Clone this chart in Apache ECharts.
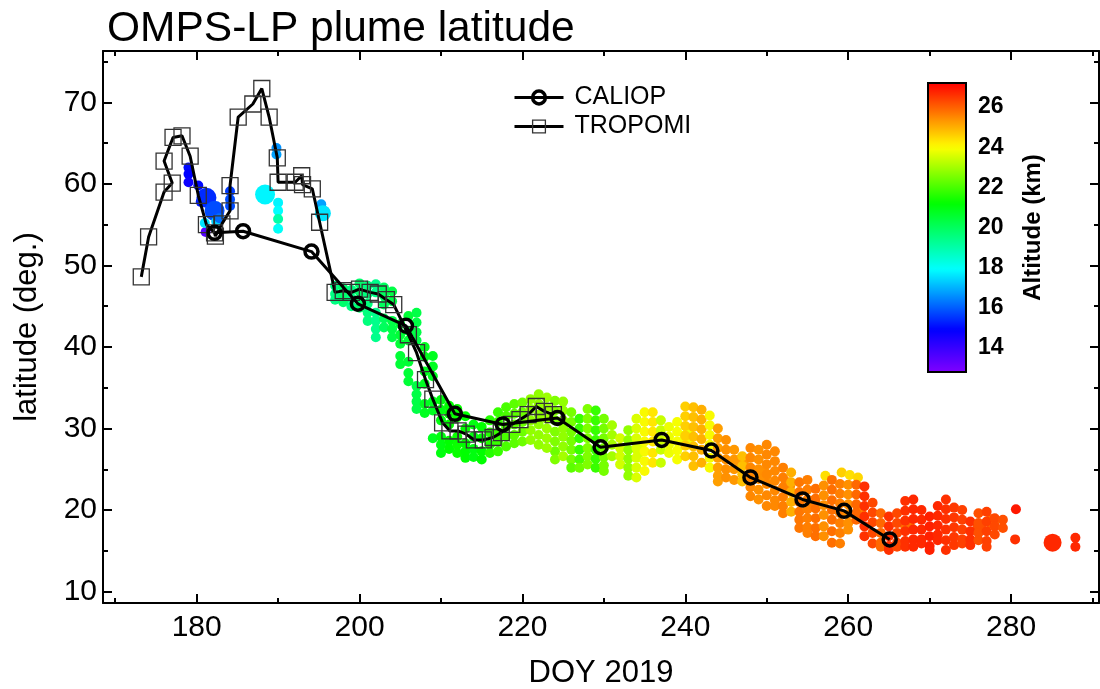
<!DOCTYPE html>
<html>
<head>
    <meta charset="utf-8">
    <title>OMPS-LP plume latitude</title>
    <script src="https://cdn.jsdelivr.net/npm/echarts@6/dist/echarts.min.js"></script>
</head>
<body style="margin:0">
    <div id="main" style="width: 1100px;height:689px;"></div>
    <script type="text/javascript">
        // CALIOP track (DOY, latitude)
        var caliopDoy = [182.2, 185.7, 194.1, 199.8, 205.7, 211.7, 217.6, 224.3, 229.6, 237.1, 243.2, 248.0, 254.4, 259.5, 265.1];
        var caliopLat = [54.0, 54.2, 51.7, 45.3, 42.6, 31.8, 30.5, 31.3, 27.7, 28.6, 27.3, 24.0, 21.3, 19.9, 16.4];

        // TROPOMI track (DOY, latitude), in drawing order
        var tropDoy = [173.2, 174.1, 176.0, 177.0, 176.0, 177.1, 178.2, 179.2, 180.2, 181.2, 182.2, 182.3, 183.1, 184.1, 184.1,
            185.1, 186.9, 188.0, 188.9, 189.9, 190.0, 192.1, 192.9, 193.0, 194.2, 195.1,
            197.0, 198.0, 199.0, 200.0, 201.3, 202.3, 203.3, 204.2, 206.0, 207.0, 208.1, 209.0, 210.2,
            211.1, 212.1, 213.1, 214.1, 215.2, 216.4, 217.4, 218.7, 219.7, 220.7, 221.7, 222.7, 223.8];
        var tropLat = [48.6, 53.5, 59.0, 60.1, 62.8, 65.7, 65.9, 63.4, 58.6, 55.0, 54.0, 53.6, 55.1, 56.7, 59.8,
            68.2, 69.8, 71.7, 68.2, 63.2, 60.2, 60.2, 61.0, 59.9, 59.4, 55.3,
            46.7, 46.9, 46.7, 47.1, 46.7, 46.5, 45.8, 45.2, 41.5, 39.3, 36.0, 33.6, 30.7,
            29.7, 29.7, 29.3, 28.6, 28.6, 28.9, 29.5, 30.5, 31.1, 31.7, 32.7, 32.1, 31.7];

        // OMPS-LP single points: [DOY, latitude, altitude km, (size)]
        var ompsPoints = [
            [179.0, 62.0, 15.0], [179.0, 61.2, 14.9], [179.0, 60.2, 14.7],
            [180.2, 59.8, 15.0], [180.5, 57.8, 15.2], [181.2, 58.3, 15.4, 20],
            [182.2, 56.7, 15.8, 20], [181.1, 54.1, 13.5], [181.0, 55.2, 17.6],
            [182.4, 55.4, 17.4], [182.8, 55.8, 16.2],
            [184.1, 59.1, 15.6], [184.1, 58.1, 15.8], [184.1, 57.3, 15.8],
            [189.8, 64.4, 16.6], [189.8, 63.6, 16.8], [188.4, 58.7, 17.8, 20],
            [190.0, 57.7, 17.8], [190.0, 56.7, 17.9], [190.0, 55.7, 19.0], [190.0, 54.5, 18.0],
            [195.3, 57.5, 16.8], [195.5, 56.4, 17.6, 16],
            [224.0, 27.2, 22.4], [224.0, 26.2, 22.6], [225.0, 27.8, 22.8], [225.0, 26.6, 23.0],
            [226.0, 26.2, 22.5], [226.0, 25.2, 22.2], [227.0, 26.2, 22.0], [227.0, 25.2, 22.4],
            [234.4, 27.4, 23.6, 15], [240.3, 29.0, 23.8, 16], [246.9, 26.0, 25.3, 15],
            [249.7, 24.3, 25.4, 15], [252.6, 23.1, 25.5, 15], [255.7, 20.9, 25.6, 14],
            [261.4, 20.0, 25.6, 14], [267.3, 18.0, 25.8, 15], [276.1, 17.8, 26.2, 14], [277.7, 18.6, 25.9, 15],
            [259.2, 24.6, 24.6], [260.2, 24.3, 24.4], [261.2, 24.0, 24.5], [257.2, 24.2, 24.4],
            [280.6, 20.1, 26.9], [280.5, 16.4, 26.6], [285.1, 16.0, 26.7, 18],
            [287.9, 16.6, 26.7], [287.9, 15.5, 26.7]
        ];

        // OMPS-LP daily columns: [DOY, altitude km, latitudes]
        var ompsColumns = [
            [197, 19.5, [47.5, 46.5, 45.8]],
            [198, 19.8, [47.2, 46.2, 45.5]],
            [199, 19.5, [47.0, 46.0, 45.0]],
            [200, 19.8, [47.8, 46.8, 45.8, 44.8]],
            [201, 19.6, [47.5, 46.5, 45.3, 44.2, 43.2]],
            [202, 19.4, [47.7, 46.7, 44.2, 43.2, 42.2, 41.2]],
            [203, 20.0, [47.3, 46.3, 45.2, 43.5, 42.4]],
            [204, 20.3, [46.8, 45.6, 43.2, 42.2, 41.2]],
            [205, 20.5, [42.8, 41.5, 40.4, 38.9, 37.9]],
            [206, 20.5, [43.8, 42.0, 40.8, 38.2, 36.8, 35.8]],
            [207, 20.3, [44.2, 43.0, 41.8, 40.8, 35.2, 34.2, 33.3, 32.4]],
            [208, 20.8, [40.0, 38.8, 37.0, 35.5, 33.0, 31.9]],
            [209, 20.8, [38.9, 37.6, 36.4, 33.3, 32.2, 28.8]],
            [210, 21.0, [33.5, 32.3, 31.0, 29.0, 28.0, 27.0]],
            [211, 21.2, [32.8, 31.8, 30.5, 28.5, 27.5]],
            [212, 21.3, [32.4, 31.4, 29.0, 28.0, 27.0]],
            [213, 21.2, [31.5, 30.0, 28.2, 27.2, 26.4]],
            [214, 21.0, [30.5, 29.0, 27.5, 26.5]],
            [215, 21.2, [30.2, 28.8, 27.2, 26.2]],
            [216, 21.6, [31.0, 29.5, 28.0, 27.0]],
            [217, 21.8, [32.0, 30.8, 29.5, 28.4, 27.2]],
            [218, 22.0, [32.6, 31.5, 30.2, 29.0, 27.8]],
            [219, 22.2, [33.0, 31.8, 30.5, 29.2, 28.2]],
            [220, 22.4, [33.2, 32.0, 30.8, 29.6, 28.4]],
            [221, 22.8, [33.6, 32.4, 31.0, 29.8, 28.6]],
            [222, 22.8, [34.2, 33.0, 31.7, 30.5, 29.2, 28.0]],
            [223, 22.9, [33.8, 32.6, 31.2, 30.0, 28.8, 27.6]],
            [224, 22.6, [33.4, 32.2, 31.0, 29.6, 28.4]],
            [225, 22.8, [33.3, 32.2, 31.0, 30.0, 29.0]],
            [226, 22.5, [32.0, 30.8, 29.6, 28.5, 27.4]],
            [227, 21.8, [31.2, 30.0, 28.8, 27.4]],
            [228, 22.6, [32.4, 31.2, 30.0, 28.8, 27.6, 26.6, 25.6]],
            [229, 21.8, [32.2, 31.0, 29.8, 28.6, 27.4, 26.3, 25.2]],
            [230, 22.5, [31.2, 30.0, 28.8, 27.6, 26.5, 25.5, 24.8]],
            [231, 23.0, [30.4, 29.2, 28.0, 26.6]],
            [232, 23.5, [28.8, 27.6, 26.6, 25.6]],
            [233, 22.8, [29.8, 28.6, 27.4, 26.3, 25.2, 24.2]],
            [234, 23.6, [31.2, 30.0, 28.8, 27.6, 26.4, 25.2, 24.0]],
            [235, 24.0, [32.0, 30.8, 29.6, 28.4, 27.2, 26.0, 24.8]],
            [236, 24.3, [32.0, 30.8, 29.6, 28.4, 27.0, 25.8]],
            [237, 23.4, [31.0, 29.8, 28.6, 27.4, 25.8]],
            [238, 23.8, [30.2, 29.0, 28.0, 27.0]],
            [239, 23.9, [30.8, 29.6, 28.4, 27.3, 26.2]],
            [240, 24.6, [32.7, 31.5, 30.3, 29.1, 27.9, 26.6]],
            [241, 24.8, [32.6, 31.4, 30.2, 29.0, 27.8, 26.6, 25.4]],
            [242, 25.0, [32.3, 31.1, 29.9, 28.7, 27.4, 25.8]],
            [243, 24.0, [31.6, 30.4, 29.2, 28.0, 26.4, 25.2]],
            [244, 25.2, [30.0, 28.8, 27.6, 26.4, 25.2, 24.2, 23.5]],
            [245, 25.4, [28.6, 27.4, 26.2, 25.0, 24.0]],
            [246, 25.3, [27.4, 26.2, 25.0, 23.7]],
            [247, 24.8, [26.6, 25.4, 24.4, 23.5]],
            [248, 25.5, [27.6, 26.4, 25.2, 24.0, 22.8, 21.7]],
            [249, 25.4, [27.4, 26.2, 25.0, 23.8, 22.5, 21.3]],
            [250, 25.5, [28.0, 26.8, 25.6, 24.4, 23.2, 21.8, 20.5]],
            [251, 25.5, [27.2, 26.0, 24.8, 23.6, 22.4, 21.2, 20.5]],
            [252, 25.6, [25.2, 24.0, 22.8, 21.6, 20.5, 19.6]],
            [253, 25.0, [24.6, 23.4, 22.2, 21.0, 19.8]],
            [254, 25.7, [23.4, 22.2, 21.0, 19.8, 18.8, 17.8]],
            [255, 25.6, [23.7, 22.5, 21.3, 20.1, 19.0, 17.9, 17.2]],
            [256, 25.8, [22.6, 21.4, 20.2, 19.0, 17.8, 16.8]],
            [257, 25.4, [23.0, 21.8, 20.6, 19.4, 18.0, 16.8]],
            [258, 25.8, [23.7, 22.5, 21.2, 20.0, 18.8, 17.4, 16.0]],
            [259, 25.6, [23.2, 22.0, 20.8, 19.6, 18.4, 17.2, 15.9]],
            [260, 25.4, [23.1, 21.9, 20.7, 19.5, 18.4, 17.6]],
            [261, 25.9, [23.1, 21.9, 20.7, 19.6, 18.8]],
            [262, 26.6, [22.9, 21.7, 20.5, 19.2, 18.0, 16.8]],
            [263, 26.3, [20.9, 19.7, 18.5, 17.2, 15.9]],
            [264, 25.9, [19.6, 18.4, 17.2, 16.0, 15.5]],
            [265, 26.6, [19.2, 18.0, 16.8, 15.6, 15.1]],
            [266, 26.3, [19.6, 18.4, 17.2, 16.0, 15.5]],
            [267, 26.6, [21.1, 19.9, 18.7, 17.4, 16.2, 15.5]],
            [268, 26.7, [21.3, 20.1, 18.9, 17.6, 16.4, 15.5]],
            [269, 26.7, [20.0, 18.8, 17.6, 16.4, 15.9]],
            [270, 26.8, [19.2, 18.0, 16.8, 15.6, 15.1]],
            [271, 26.7, [20.5, 19.3, 18.1, 17.0, 16.3]],
            [272, 26.6, [21.3, 20.1, 18.9, 17.6, 16.3, 15.1]],
            [273, 26.5, [20.3, 19.1, 17.9, 16.7, 15.7]],
            [274, 26.4, [20.0, 18.8, 17.6, 16.4, 15.9]],
            [275, 26.6, [18.6, 17.4, 16.4, 15.7]],
            [276, 26.2, [19.6, 18.4, 17.2, 16.3]],
            [277, 26.4, [19.8, 18.6, 17.4, 16.2, 15.5]],
            [278, 26.3, [19.0, 18.0, 17.0]],
            [279, 26.2, [18.8, 17.8]]
        ];

        var xMajor = [180, 200, 220, 240, 260, 280];
        var xMinor = [170, 190, 210, 230, 250, 270, 290];
        var yMajor = [10, 20, 30, 40, 50, 60, 70];
        var yMinor = [15, 25, 35, 45, 55, 65, 75];
        var altTicks = [14, 16, 18, 20, 22, 24, 26];

        var altMin = 12.8, altMax = 27.2;
        // rainbow colour bar: altitude -> hue
        var hueStops = [[12.8, 270], [14.9, 240], [17.9, 180], [21.2, 120], [24.0, 60], [27.2, 0]];
        function hueAt(v) {
            for (var i = 1; i < hueStops.length; i++) {
                if (v <= hueStops[i][0]) {
                    var a = hueStops[i - 1], b = hueStops[i];
                    return a[1] + (b[1] - a[1]) * (v - a[0]) / (b[0] - a[0]);
                }
            }
            return 0;
        }
        var rainbow = [];
        for (var k = 0; k <= 48; k++) {
            rainbow.push('hsl(' + hueAt(altMin + (altMax - altMin) * k / 48).toFixed(1) + ',100%,50%)');
        }

        var scatterData = ompsPoints.slice();
        ompsColumns.forEach(function (c) {
            c[2].forEach(function (lat) { scatterData.push([c[0], lat, c[1]]); });
        });
        var caliopData = caliopDoy.map(function (d, i) { return [d, caliopLat[i]]; });
        var tropData = tropDoy.map(function (d, i) { return [d, tropLat[i]]; });

        var font = 'Liberation Sans, Arial, sans-serif';
        var black = '#000';
        var xMin = 168.5, xMax = 290.8, yMin = 8.6, yMax = 76.3;

        function frameAxis(pos, min, max, ticks, len, labels, extra) {
            var ax = {
                gridIndex: 0, type: 'value', position: pos, min: min, max: max,
                axisLine: {show: !!extra.line, onZero: false, lineStyle: {color: black, width: 2}},
                axisTick: {show: true, inside: true, length: len, customValues: ticks, lineStyle: {color: black, width: 2}},
                axisLabel: {show: !!labels, customValues: labels || [], fontSize: 30, color: black, fontFamily: font, margin: extra.margin || 8},
                splitLine: {show: false}
            };
            for (var key in extra.more || {}) ax[key] = extra.more[key];
            return ax;
        }

        var myChart = echarts.init(document.getElementById('main'));

        var option = {
            animation: false,
            backgroundColor: '#fff',
            title: {
                text: 'OMPS-LP plume latitude',
                left: 107, top: 8, padding: 0,
                textStyle: {fontSize: 42.5, fontWeight: 'normal', color: black, fontFamily: font}
            },
            grid: [
                {left: 103, top: 51, right: 1, bottom: 86, outerBoundsMode: 'none', containLabel: false},
                {left: 928, top: 83, width: 38, height: 289, outerBoundsMode: 'none', containLabel: false,
                    show: true, borderColor: black, borderWidth: 2, backgroundColor: 'rgba(0,0,0,0)', z: 10}
            ],
            legend: {
                data: [
                    {name: 'CALIOP', itemStyle: {borderWidth: 3.5, borderColor: black}},
                    {name: 'TROPOMI', itemStyle: {borderWidth: 1.3, borderColor: '#333'}}
                ],
                orient: 'vertical',
                left: 513, top: 85, padding: 0,
                itemWidth: 49, itemHeight: 16, itemGap: 4,
                lineStyle: {width: 3},
                textStyle: {fontSize: 25, color: black, fontFamily: font, padding: [0, 0, 0, 6]}
            },
            visualMap: {
                type: 'continuous',
                seriesIndex: 0, dimension: 2,
                min: altMin, max: altMax,
                inRange: {color: rainbow},
                left: 928, top: 83, padding: 0,
                itemWidth: 38, itemHeight: 289,
                calculable: false, text: null, showLabel: false,
                hoverLink: false, z: 4
            },
            xAxis: [
                frameAxis('bottom', xMin, xMax, xMajor, 9, xMajor, {line: true, margin: 10, more: {
                    name: 'DOY 2019', nameLocation: 'middle', nameGap: 55,
                    nameTextStyle: {fontSize: 31, color: black, fontFamily: font}}}),
                frameAxis('bottom', xMin, xMax, xMinor, 5, null, {}),
                frameAxis('top', xMin, xMax, xMajor, 9, null, {line: true}),
                frameAxis('top', xMin, xMax, xMinor, 5, null, {}),
                {gridIndex: 1, type: 'value', show: false, min: 0, max: 1}
            ],
            yAxis: [
                frameAxis('left', yMin, yMax, yMajor, 9, yMajor, {line: true, margin: 6, more: {
                    name: 'latitude (deg.)', nameLocation: 'middle', nameGap: 60,
                    nameTextStyle: {fontSize: 31, color: black, fontFamily: font}}}),
                frameAxis('left', yMin, yMax, yMinor, 5, null, {}),
                frameAxis('right', yMin, yMax, yMajor, 9, null, {line: true}),
                frameAxis('right', yMin, yMax, yMinor, 5, null, {}),
                {
                    gridIndex: 1, type: 'value', position: 'right', min: altMin, max: altMax,
                    axisLine: {show: false},
                    axisTick: {show: true, inside: false, length: 6, customValues: altTicks, lineStyle: {color: black, width: 2}},
                    axisLabel: {customValues: altTicks, fontSize: 23, fontWeight: 'bold', color: black, fontFamily: font, margin: 12},
                    splitLine: {show: false},
                    name: 'Altitude (km)', nameLocation: 'middle', nameRotate: 90, nameGap: 55,
                    nameTextStyle: {fontSize: 24, fontWeight: 'bold', color: black, fontFamily: font}
                }
            ],
            series: [
                {
                    name: 'OMPS-LP', type: 'scatter', xAxisIndex: 0, yAxisIndex: 0,
                    data: scatterData,
                    symbolSize: function (v) { return v[3] || 10; },
                    itemStyle: {opacity: 1},
                    silent: true, z: 1
                },
                {
                    name: 'TROPOMI', type: 'line', xAxisIndex: 0, yAxisIndex: 0,
                    data: tropData,
                    symbol: 'rect', symbolSize: 16,
                    itemStyle: {color: 'rgba(0,0,0,0)', borderColor: '#333', borderWidth: 1.3},
                    lineStyle: {color: black, width: 3},
                    silent: true, z: 2
                },
                {
                    name: 'CALIOP', type: 'line', xAxisIndex: 0, yAxisIndex: 0,
                    data: caliopData,
                    symbol: 'circle', symbolSize: 13,
                    itemStyle: {color: 'rgba(255,255,255,0)', borderColor: black, borderWidth: 3.5},
                    lineStyle: {color: black, width: 3},
                    silent: true, z: 3
                }
            ]
        };

        myChart.setOption(option);
    </script>
</body>
</html>
